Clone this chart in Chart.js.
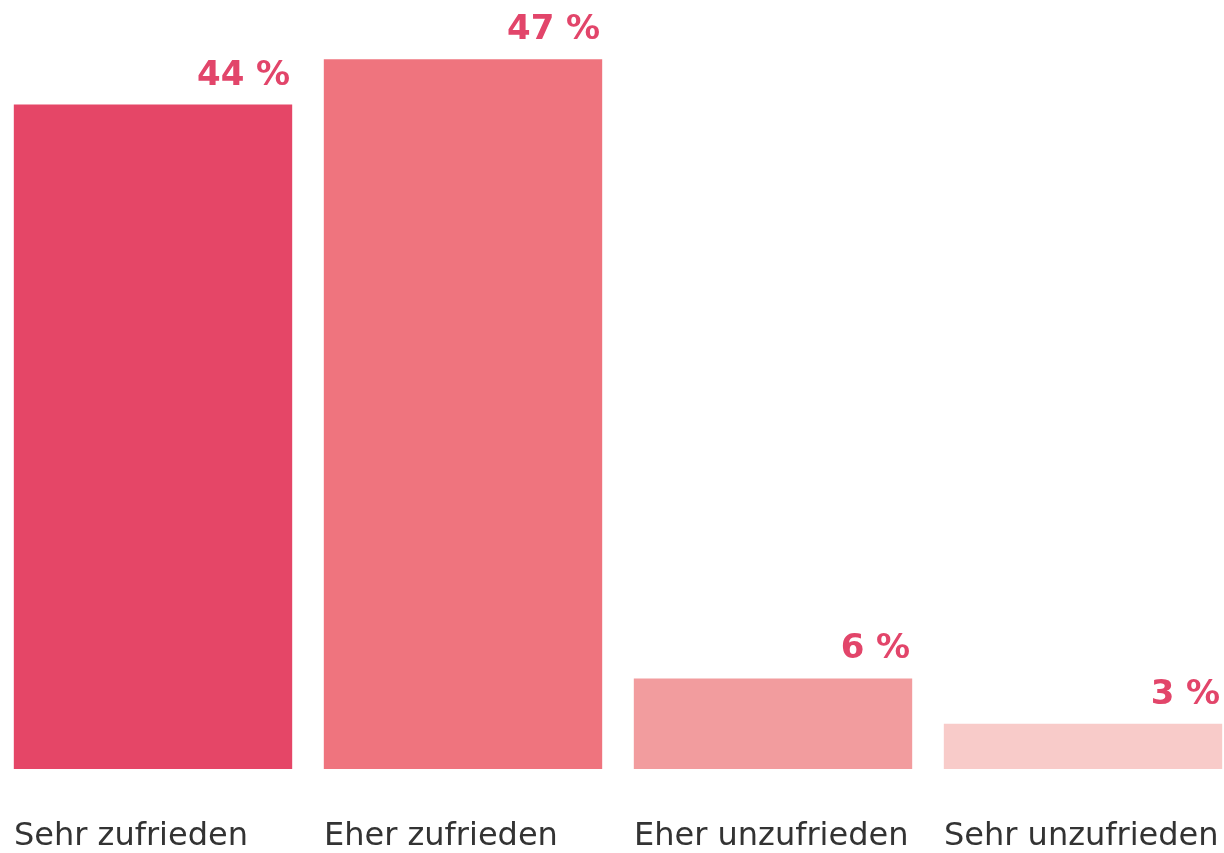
<!DOCTYPE html>
<html><head><meta charset="utf-8">
<script src="https://cdn.jsdelivr.net/npm/chart.js@4"></script>
<style>
html,body{margin:0;padding:0;background:#fff;overflow:hidden;width:1224px;height:853px}
#c{position:absolute;left:-2px;top:0;width:1240px;height:853px}
</style></head>
<body><canvas id="c" width="1240" height="853"></canvas>
<script>
const categories = ['Sehr zufrieden', 'Eher zufrieden', 'Eher unzufrieden', 'Sehr unzufrieden'];
const values = [44, 47, 6, 3];
const barColors = ['#e54667', '#ef747e', '#f29c9e', '#f8cbc9'];
const valueSuffix = ' %';

const valueLabels = {
  id: 'valueLabels',
  afterDatasetsDraw(chart) {
    const ctx = chart.ctx;
    const meta = chart.getDatasetMeta(0);
    ctx.save();
    ctx.font = '600 34px "DejaVu Sans"';
    ctx.fillStyle = '#e2456a';
    ctx.textAlign = 'right';
    ctx.textBaseline = 'alphabetic';
    meta.data.forEach((el, i) => {
      ctx.fillText(values[i] + valueSuffix, el.x + el.width / 2 - 2, el.y - 20);
    });
    ctx.restore();
  }
};

new Chart(document.getElementById('c'), {
  type: 'bar',
  data: {
    labels: categories,
    datasets: [{
      data: values,
      backgroundColor: barColors,
      borderWidth: 0,
      barPercentage: 0.898,
      categoryPercentage: 1
    }]
  },
  options: {
    responsive: false,
    animation: false,
    devicePixelRatio: 1,
    layout: { padding: { top: 14, bottom: 0, left: 0, right: 0 } },
    plugins: { legend: { display: false }, tooltip: { enabled: false } },
    scales: {
      y: { display: false, min: 0, max: 50 },
      x: {
        grid: { display: false, drawTicks: false },
        border: { display: false },
        afterFit(scale) {
          scale.height = 84;
          scale.paddingLeft = 0;
          scale.paddingRight = 0;
        },
        ticks: {
          autoSkip: false,
          maxRotation: 0,
          align: 'start',
          labelOffset: -139,
          padding: 48,
          color: '#333333',
          font: { family: 'DejaVu Sans', size: 32 }
        }
      }
    }
  },
  plugins: [valueLabels]
});
</script>
</body></html>
